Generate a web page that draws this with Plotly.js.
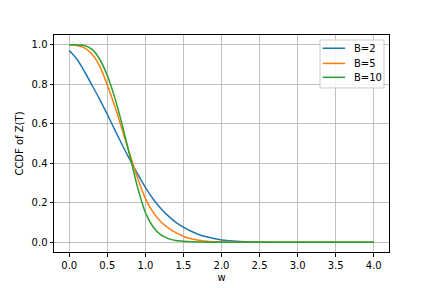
<!DOCTYPE html>
<html><head><meta charset="utf-8">
<script src="https://cdn.plot.ly/plotly-3.0.1.min.js"></script>
<style>body{margin:0;padding:0;background:#fff}#c{width:432px;height:288px}</style>
</head><body><div id="c"></div>
<script>
const w = [0.0,0.1,0.2,0.3,0.4,0.5,0.6,0.7,0.8,0.9,1.0,1.1,1.2,1.3,1.4,1.5,1.6,1.7,1.8,1.9,2.0,2.1,2.2,2.3,2.4,2.5,2.6,2.7,2.8,2.9,3.0,3.1,3.2,3.3,3.4,3.5,3.6,3.7,3.8,3.9,4.0];
const ccdfB2 = [0.971,0.928,0.865,0.795,0.724,0.648,0.568,0.49,0.415,0.345,0.278,0.22,0.172,0.133,0.10,0.076,0.055,0.039,0.027,0.018,0.011,0.007,0.004,0.002,0.001,0.001,0,0,0,0,0,0,0,0,0,0,0,0,0,0,0];
const ccdfB5 = [1.0,0.997,0.985,0.952,0.892,0.797,0.687,0.565,0.44,0.322,0.222,0.152,0.105,0.072,0.048,0.03,0.017,0.009,0.004,0.002,0.001,0,0,0,0,0,0,0,0,0,0,0,0,0,0,0,0,0,0,0,0];
const ccdfB10 = [1.0,1.0,0.997,0.977,0.927,0.845,0.73,0.588,0.43,0.275,0.15,0.078,0.038,0.018,0.008,0.004,0.002,0.001,0,0,0,0,0,0,0,0,0,0,0,0,0,0,0,0,0,0,0,0,0,0,0];
const names = ['B=2','B=5','B=10'];
const colors = ['#1f77b4','#ff7f0e','#2ca02c'];
const series = [ccdfB2, ccdfB5, ccdfB10];
const traces = series.map((ys,i)=>({x:w,y:ys,type:'scatter',mode:'lines',name:names[i],showlegend:false,
  line:{color:colors[i],width:1.5,shape:'spline',smoothing:0.7}}));
const ax = {showline:true,linecolor:'#000',linewidth:1,mirror:true,ticks:'outside',ticklen:3.5,tickcolor:'#000',
  showgrid:true,gridcolor:'#b0b0b0',gridwidth:0.8,zeroline:false,tickfont:{size:10,color:'#000'}};
// manual legend (matplotlib-like compact spacing)
const legRows = [0.939,0.869,0.805];
const shapes = [{type:'rect',xref:'paper',yref:'paper',x0:0.794,x1:0.985,y0:0.756,y1:0.977,
  line:{color:'#cccccc',width:1},fillcolor:'rgba(255,255,255,0.8)',layer:'above'}];
const annotations = [];
names.forEach((n,i)=>{
  shapes.push({type:'line',xref:'paper',yref:'paper',x0:0.802,x1:0.869,y0:legRows[i],y1:legRows[i],
    line:{color:colors[i],width:1.5},layer:'above'});
  annotations.push({xref:'paper',yref:'paper',x:0.89,y:legRows[i],xanchor:'left',yanchor:'middle',
    text:n,showarrow:false,font:{size:10,color:'#000'}});
});
const layout = {width:432,height:288,margin:{l:54,r:43,t:35,b:36},paper_bgcolor:'#fff',plot_bgcolor:'#fff',
  font:{family:'DejaVu Sans',size:10,color:'#000'},
  xaxis:Object.assign({},ax,{range:[-0.2,4.2],dtick:0.5,tick0:0,tickformat:'.1f',title:{text:'w',standoff:4,font:{size:10}}}),
  yaxis:Object.assign({},ax,{range:[-0.05,1.05],dtick:0.2,tick0:0,tickformat:'.1f',title:{text:'CCDF of Z(T)',standoff:6,font:{size:10}}}),
  showlegend:false,shapes:shapes,annotations:annotations
};
Plotly.newPlot('c',traces,layout,{staticPlot:true,displayModeBar:false});
</script></body></html>
